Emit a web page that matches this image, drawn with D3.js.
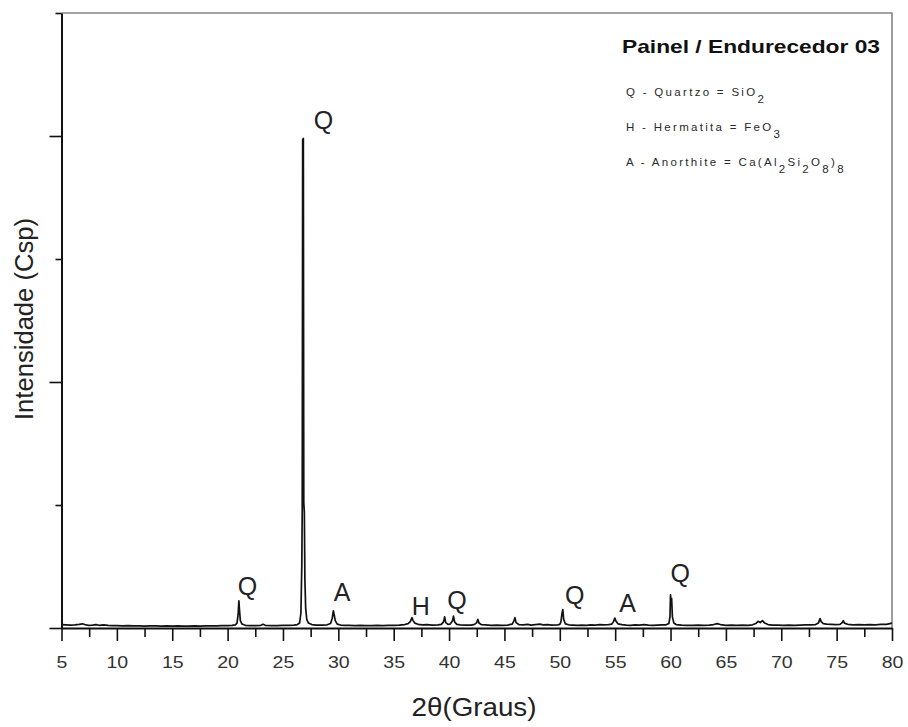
<!DOCTYPE html>
<html>
<head>
<meta charset="utf-8">
<script src="https://cdn.jsdelivr.net/npm/d3@7"></script>
<style>
  body { margin: 0; background: #fff; }
  svg { display: block; }
</style>
</head>
<body>
<script>
var margin = ({ top: 13, right: 16, bottom: 99, left: 61.5 });

var total_width = 908;
var total_height = 727;
var width = total_width - margin.left - margin.right;
var height = total_height - margin.top - margin.bottom;

var font = 'Liberation Sans, Arial, Helvetica, sans-serif';

// axis ticks
var x_major = [5, 10, 15, 20, 25, 30, 35, 40, 45, 50, 55, 60, 65, 70, 75, 80];
var x_minor = [7.5, 12.5, 17.5, 22.5, 27.5, 32.5, 37.5, 42.5, 47.5, 52.5, 57.5, 62.5, 67.5, 72.5, 77.5];
var y_major = [0, 1000, 2000];
var y_minor = [500, 1500, 2500];

// diffractogram, [2theta, counts]
var pattern = [
    [5.0, 14], [5.4, 13], [5.8, 12], [6.2, 13], [6.6, 15], [6.9, 17], [7.1, 14], [7.4, 11],
    [7.8, 12], [8.1, 14], [8.4, 11], [8.8, 13], [9.2, 11], [9.6, 10], [10, 10], [10.5, 9],
    [11, 10], [11.5, 9], [12, 9], [12.5, 8], [13, 9], [13.5, 9], [14, 8], [14.5, 9],
    [15, 8], [15.5, 9], [16, 8], [16.5, 8], [17, 9], [17.5, 8], [18, 9], [18.5, 9],
    [19, 9], [19.5, 10], [20, 10], [20.4, 11], [20.7, 13], [20.85, 20], [20.95, 55], [21.02, 110],
    [21.08, 70], [21.15, 30], [21.3, 16], [21.6, 11], [22, 10], [22.5, 10], [23, 11], [23.2, 15],
    [23.4, 11], [24, 10], [24.5, 10], [25, 11], [25.5, 11], [26, 12], [26.3, 14], [26.5, 20],
    [26.62, 60], [26.7, 250], [26.74, 490], [26.78, 1985], [26.84, 1990], [26.88, 510], [26.93, 470], [26.98, 200],
    [27.05, 80], [27.15, 35], [27.3, 20], [27.6, 14], [28, 12], [28.5, 12], [29, 13], [29.3, 18],
    [29.45, 40], [29.55, 70], [29.62, 55], [29.72, 30], [29.9, 16], [30.2, 12], [30.6, 11], [31, 11],
    [31.5, 10], [32, 11], [32.5, 10], [33, 10], [33.5, 11], [34, 10], [34.5, 11], [35, 11],
    [35.5, 12], [36, 14], [36.3, 18], [36.5, 26], [36.65, 42], [36.75, 30], [36.9, 20], [37.2, 15],
    [37.6, 13], [38, 14], [38.5, 12], [39, 13], [39.3, 15], [39.5, 25], [39.6, 45], [39.7, 22],
    [39.9, 15], [40.1, 16], [40.3, 28], [40.4, 48], [40.5, 25], [40.7, 15], [41, 13], [41.5, 12],
    [42, 12], [42.3, 15], [42.5, 22], [42.6, 35], [42.7, 20], [42.9, 14], [43.3, 13], [43.8, 11],
    [44.3, 12], [44.8, 11], [45.3, 12], [45.7, 16], [45.85, 28], [45.95, 42], [46.05, 22], [46.3, 14],
    [46.7, 13], [47.1, 15], [47.4, 12], [47.8, 14], [48.2, 16], [48.5, 13], [48.9, 14], [49.3, 12],
    [49.8, 13], [50.0, 15], [50.1, 25], [50.2, 60], [50.27, 75], [50.35, 35], [50.5, 17], [50.8, 13],
    [51.2, 12], [51.6, 11], [52, 12], [52.4, 11], [52.8, 13], [53.2, 12], [53.6, 14], [54, 13],
    [54.4, 14], [54.7, 16], [54.85, 26], [54.97, 40], [55.07, 28], [55.25, 17], [55.6, 14], [56, 12],
    [56.4, 11], [56.8, 13], [57.2, 12], [57.6, 14], [58, 12], [58.4, 11], [58.8, 12], [59.2, 13],
    [59.6, 13], [59.85, 18], [59.95, 45], [60.0, 135], [60.05, 95], [60.1, 120], [60.17, 45], [60.3, 20],
    [60.5, 14], [61, 12], [61.5, 11], [62, 11], [62.5, 12], [63, 11], [63.5, 12], [63.9, 14],
    [64.2, 18], [64.5, 14], [65, 11], [65.5, 12], [66, 11], [66.5, 12], [67, 11], [67.4, 13],
    [67.7, 18], [67.9, 27], [68.1, 22], [68.3, 30], [68.5, 20], [68.8, 14], [69.2, 12], [69.7, 12],
    [70.2, 11], [70.7, 12], [71.2, 11], [71.7, 12], [72.2, 13], [72.7, 13], [73.1, 14], [73.35, 20],
    [73.5, 38], [73.6, 26], [73.8, 18], [74.1, 16], [74.5, 15], [74.9, 14], [75.3, 15], [75.5, 22],
    [75.6, 30], [75.7, 20], [76, 15], [76.5, 13], [77, 14], [77.5, 13], [78, 14], [78.5, 13],
    [79, 15], [79.5, 15], [79.8, 18], [80, 20]
];

// phase letters over the peaks: [letter, 2theta, counts]
var peak_labels = [
    ['Q', 28.65, 2029],
    ['Q', 21.8, 134],
    ['A', 30.33, 110],
    ['H', 37.45, 53],
    ['Q', 40.72, 77],
    ['Q', 51.35, 97],
    ['A', 56.13, 65],
    ['Q', 60.87, 187]
];

var legend_title = 'Painel / Endurecedor 03';
// each legend line: [text, is_subscript] pieces
var legend_lines = [
    [['Q - Quartzo = SiO', false], ['2', true]],
    [['H - Hermatita = FeO', false], ['3', true]],
    [['A - Anorthite = Ca(Al', false], ['2', true], ['Si', false], ['2', true], ['O', false], ['8', true], [')', false], ['8', true]]
];

var x_title = '2\u03b8(Graus)';
var y_title = 'Intensidade (Csp)';

var x = d3.scaleLinear().domain([5, 80]).range([0, width]);
var y = d3.scaleLinear().domain([0, 2500]).range([height, 0]);

var svg = d3.select('body')
    .append('svg')
    .attr('width', total_width)
    .attr('height', total_height);

var plot = svg.append('g')
    .attr('transform', `translate(${margin.left}, ${margin.top})`);

// grey frame on top and right
plot.append('path')
    .attr('d', `M${x(5)},${y(2500)}H${x(80)}V${y(0)}`)
    .attr('fill', 'none')
    .attr('stroke', '#858585')
    .attr('stroke-width', 1.6);

// data
var line = d3.line()
    .x(function(d) { return x(d[0]); })
    .y(function(d) { return y(d[1]); });

plot.append('path')
    .datum(pattern)
    .attr('d', line)
    .attr('fill', 'none')
    .attr('stroke', '#111')
    .attr('stroke-width', 1.7)
    .attr('stroke-linejoin', 'round');

// x axis
var x_axis = plot.append('g')
    .attr('transform', `translate(0, ${height})`)
    .call(d3.axisBottom(x).tickValues(x_major).tickSize(13).tickSizeOuter(0).tickFormat(d3.format('d')));

plot.append('g')
    .attr('transform', `translate(0, ${height})`)
    .call(d3.axisBottom(x).tickValues(x_minor).tickSize(9).tickSizeOuter(0).tickFormat(''))
    .call(function(g) { g.select('.domain').remove(); });

x_axis.selectAll('text')
    .attr('y', 40)
    .attr('dy', 0)
    .attr('transform', 'scale(1.15, 1)')
    .style('font-family', font)
    .style('font-size', '17px')
    .attr('fill', '#333');

// y axis
plot.append('g')
    .call(d3.axisLeft(y).tickValues(y_major).tickSize(12).tickSizeOuter(0).tickFormat(''));

plot.append('g')
    .call(d3.axisLeft(y).tickValues(y_minor).tickSize(6).tickSizeOuter(0).tickFormat(''))
    .call(function(g) { g.select('.domain').remove(); });

plot.selectAll('.domain').attr('stroke', '#111').attr('stroke-width', 2);
plot.selectAll('.tick line').attr('stroke', '#111').attr('stroke-width', 1.6);

// peak letters
plot.selectAll('.peak_label')
    .data(peak_labels)
    .enter()
    .append('text')
    .attr('class', 'peak_label')
    .attr('x', function(d) { return x(d[1]); })
    .attr('y', function(d) { return y(d[2]); })
    .attr('text-anchor', 'middle')
    .style('font-family', font)
    .style('font-size', '25px')
    .attr('fill', '#222')
    .text(function(d) { return d[0]; });

// axis titles
svg.append('text')
    .attr('x', 474)
    .attr('y', 716)
    .attr('text-anchor', 'middle')
    .attr('textLength', 125)
    .attr('lengthAdjust', 'spacingAndGlyphs')
    .style('font-family', font)
    .style('font-size', '25px')
    .attr('fill', '#222')
    .text(x_title);

svg.append('text')
    .attr('transform', 'translate(33, 319) rotate(-90)')
    .attr('text-anchor', 'middle')
    .attr('textLength', 202)
    .attr('lengthAdjust', 'spacingAndGlyphs')
    .style('font-family', font)
    .style('font-size', '25px')
    .attr('fill', '#222')
    .text(y_title);

// legend block
var legend = svg.append('g');

legend.append('text')
    .attr('x', 622)
    .attr('y', 53)
    .attr('textLength', 258)
    .attr('lengthAdjust', 'spacingAndGlyphs')
    .style('font-family', font)
    .style('font-size', '18.5px')
    .style('font-weight', 700)
    .attr('fill', '#111')
    .text(legend_title);

var legend_text = legend.selectAll('.legend_line')
    .data(legend_lines)
    .enter()
    .append('text')
    .attr('class', 'legend_line')
    .attr('x', 626)
    .attr('y', function(d, i) { return 96 + i * 35; })
    .style('font-family', font)
    .style('font-size', '11.5px')
    .style('letter-spacing', '2.3px')
    .attr('fill', '#2a2a2a');

legend_text.selectAll('tspan')
    .data(function(d) { return d; })
    .enter()
    .append('tspan')
    .attr('dy', function(d, i, nodes) {
        var prev = i > 0 ? d3.select(nodes[i - 1]).datum()[1] : false;
        if (d[1] && !prev) return 7;
        if (!d[1] && prev) return -7;
        return 0;
    })
    .text(function(d) { return d[0]; });
</script>
</body>
</html>
